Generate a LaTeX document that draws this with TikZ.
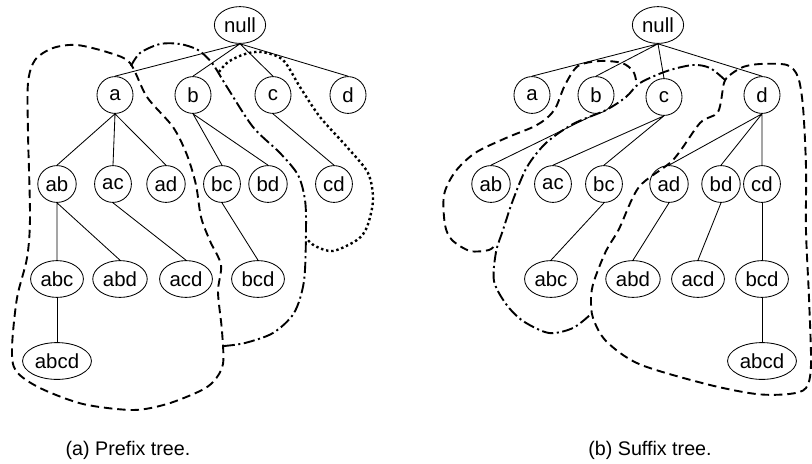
\documentclass[tikz,border=0pt]{standalone}
\usepackage{fontspec}
\setmainfont{Liberation Sans}
\usepackage{tikz}
\usetikzlibrary{shapes}
\tikzstyle{vtx}    = [ellipse, draw, line width=0.6pt, minimum width=0.9cm, minimum height=0.92cm, inner sep=1.6pt, font=\fontsize{14.5}{16}\selectfont]
\tikzstyle{edge}   = [draw, line width=0.6pt]
\tikzstyle{grpA}   = [line width=1.35pt, dash pattern=on 6pt off 3.5pt]
\tikzstyle{grpB}   = [line width=1.35pt, dash pattern=on 8pt off 2.5pt on 1.5pt off 2.5pt]
\tikzstyle{grpC}   = [line width=1.7pt, dash pattern=on 1.7pt off 2pt]
\tikzstyle{subcap} = [font=\fontsize{14}{16}\selectfont]

\begin{document}
\begin{tikzpicture}[x=0.025cm, y=-0.025cm]
    \useasboundingbox (0,0) rectangle (812,463);

    % (a) prefix tree
    \node[vtx] (pnull) at (240,25)  {null};
    \node[vtx] (pa)    at (115,95)  {a};
    \node[vtx] (pb)    at (193,95)  {b};
    \node[vtx] (pc)    at (273,95)  {c};
    \node[vtx] (pd)    at (348,95)  {d};
    \node[vtx] (pab)   at (57,184)  {ab};
    \node[vtx] (pac)   at (113,184) {ac};
    \node[vtx] (pad)   at (166,184) {ad};
    \node[vtx] (pbc)   at (222,184) {bc};
    \node[vtx] (pbd)   at (268,184) {bd};
    \node[vtx] (pcd)   at (334,184) {cd};
    \node[vtx] (pabc)  at (57,279)  {abc};
    \node[vtx] (pabd)  at (120,279) {abd};
    \node[vtx] (pacd)  at (186,279) {acd};
    \node[vtx] (pbcd)  at (258,279) {bcd};
    \node[vtx] (pabcd) at (57,361)  {abcd};

    \draw[edge] (pnull.south) -- (pa.north) (pnull.south) -- (pb.north)
                (pnull.south) -- (pc.north) (pnull.south) -- (pd.north);
    \draw[edge] (pa.south) -- (pab.north) (pa.south) -- (pac.north) (pa.south) -- (pad.north);
    \draw[edge] (pb.south) -- (pbc.north) (pb.south) -- (pbd.north);
    \draw[edge] (pc.south) -- (pcd.north);
    \draw[edge] (pab.south) -- (pabc.north) (pab.south) -- (pabd.north);
    \draw[edge] (pac.south) -- (pacd.north);
    \draw[edge] (pbc.south) -- (pbcd.north);
    \draw[edge] (pabc.south) -- (pabcd.north);

    \draw[grpA] plot[smooth cycle] coordinates {(130,63) (147,97) (173,127) (187,155) (196,185)
        (201,217) (210,241) (221,265) (218,292) (222,331) (223,364) (214,381) (200,391) (167,404)
        (133,410) (83,404) (40,388) (16,371) (12,348) (17,298) (27,258) (30,217) (28,133)
        (28,83) (35,60) (53,48) (77,45) (110,53)};
    \draw[grpB] plot[smooth] coordinates {(131,66) (140,53) (160,44) (180,44) (198,50) (212,63)
        (227,87) (253,127) (280,153) (298,175) (305,200) (306,230) (304,281) (294,313)
        (273,333) (245,343) (224,346)};
    \draw[grpC] plot[smooth] coordinates {(219,72) (228,62) (245,54) (262,52) (283,60) (300,87)
        (320,117) (347,147) (368,173) (373,200) (367,227) (357,240) (333,251) (315,246) (306,238)};

    \node[subcap] (pcap) at (128,450) {(a) Prefix tree.};

    % (b) suffix tree
    \node[vtx] (snull) at (658,25)  {null};
    \node[vtx] (sa)    at (532,95)  {a};
    \node[vtx] (sb)    at (596,95)  {b};
    \node[vtx] (sc)    at (664,97)  {c};
    \node[vtx] (sd)    at (762,95)  {d};
    \node[vtx] (sab)   at (491,184) {ab};
    \node[vtx] (sac)   at (553,184) {ac};
    \node[vtx] (sbc)   at (604,184) {bc};
    \node[vtx] (sad)   at (669,184) {ad};
    \node[vtx] (sbd)   at (721,184) {bd};
    \node[vtx] (scd)   at (762,184) {cd};
    \node[vtx] (sabc)  at (551,279) {abc};
    \node[vtx] (sabd)  at (633,279) {abd};
    \node[vtx] (sacd)  at (698,279) {acd};
    \node[vtx] (sbcd)  at (762,279) {bcd};
    \node[vtx] (sabcd) at (762,361) {abcd};

    \draw[edge] (snull.south) -- (sa.north) (snull.south) -- (sb.north)
                (snull.south) -- (sc.north) (snull.south) -- (sd.north);
    \draw[edge] (sb.south) -- (sab.north);
    \draw[edge] (sc.south) -- (sac.north) (sc.south) -- (sbc.north);
    \draw[edge] (sd.south) -- (sad.north) (sd.south) -- (sbd.north) (sd.south) -- (scd.north);
    \draw[edge] (sbc.south) -- (sabc.north);
    \draw[edge] (sad.south) -- (sabd.north);
    \draw[edge] (sbd.south) -- (sacd.north);
    \draw[edge] (scd.south) -- (sbcd.north);
    \draw[edge] (sbcd.south) -- (sabcd.north);

    \draw[grpA] plot[smooth] coordinates {(636,80) (633,71) (622,63) (600,61) (578,66) (565,85)
        (556,107) (547,118) (533,127) (506,138) (475,153) (455,172) (444,195) (445,225)
        (452,240) (470,251) (489,250) (496,244)};
    \draw[grpB] plot[smooth] coordinates {(725,80) (710,68) (693,65) (667,71) (640,83)
        (626,97) (606,110) (573,124) (546,143) (527,167) (513,200) (503,230) (496,252)
        (494,281) (506,304) (523,321) (549,333) (573,328) (591,314)};
    \draw[grpA] plot[smooth cycle] coordinates {(724,83) (730,75) (743,67) (760,64) (787,65) (798,77)
        (803,107) (806,167) (806,231) (809,298) (811,365) (806,388) (789,394) (756,394)
        (706,384) (639,364) (606,341) (593,318) (591,298) (594,281) (606,251) (619,229)
        (639,187) (673,160) (700,123) (718,112)};

    \node[subcap] (scap) at (650,450) {(b) Suffix tree.};

\end{tikzpicture}
\end{document}
